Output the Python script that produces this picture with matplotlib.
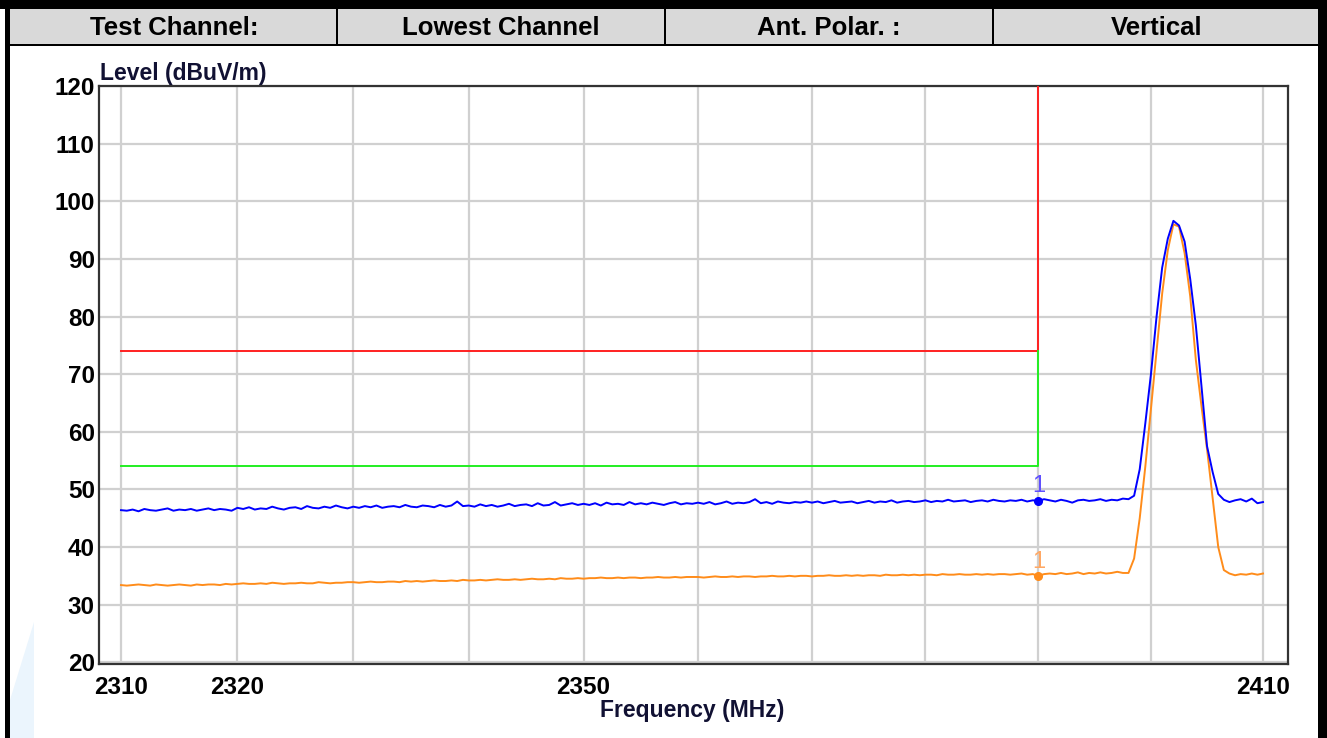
import numpy as np
import matplotlib
matplotlib.use("Agg")
import matplotlib.pyplot as plt
from matplotlib.patches import Rectangle, Polygon
from matplotlib.ticker import NullLocator, FixedLocator, FixedFormatter

# ---------------- data ----------------
header_cells = ["Test Channel:", "Lowest Channel", "Ant. Polar. :", "Vertical"]

freq_start, freq_stop, n_points = 2310.0, 2410.0, 201
freq = np.linspace(freq_start, freq_stop, n_points)  # sweep grid (0.5 MHz step)

peak_trace = [
    46.4, 46.3, 46.5, 46.2, 46.6, 46.4, 46.3, 46.5, 46.7, 46.3,
    46.5, 46.4, 46.6, 46.3, 46.5, 46.7, 46.4, 46.6, 46.5, 46.3,
    46.8, 46.6, 46.9, 46.5, 46.7, 46.6, 47.0, 46.7, 46.5, 46.8,
    46.9, 46.6, 47.1, 46.8, 46.7, 47.0, 46.8, 47.2, 46.9, 46.7,
    47.0, 46.8, 47.1, 46.9, 47.2, 46.8, 47.0, 47.1, 46.9, 47.3,
    47.0, 46.9, 47.2, 47.1, 46.9, 47.3, 47.0, 47.2, 47.9, 47.1,
    47.2, 47.0, 47.4, 47.1, 47.3, 47.0, 47.2, 47.5, 47.1, 47.3,
    47.4, 47.1, 47.6, 47.2, 47.3, 47.8, 47.2, 47.4, 47.6, 47.3,
    47.5, 47.3, 47.6, 47.2, 47.7, 47.4, 47.5, 47.3, 47.8, 47.4,
    47.6, 47.4, 47.7, 47.5, 47.3, 47.6, 47.8, 47.4, 47.6, 47.5,
    47.7, 47.5, 47.8, 47.4, 47.6, 47.9, 47.5, 47.7, 47.6, 47.8,
    48.3, 47.6, 47.8, 47.5, 47.9, 47.7, 47.6, 47.8, 47.7, 47.9,
    47.7, 47.9, 47.6, 47.8, 48.0, 47.7, 47.8, 47.9, 47.6, 47.8,
    48.0, 47.7, 47.9, 47.8, 48.1, 47.7, 47.9, 48.0, 47.8, 47.9,
    48.1, 47.8, 48.0, 47.9, 48.2, 47.9, 48.0, 48.1, 47.8, 48.0,
    48.1, 47.9, 48.2, 48.0, 47.9, 48.1, 48.0, 48.2, 47.9, 48.1,
    48.0, 48.3, 48.1, 47.9, 48.2, 48.0, 47.7, 48.1, 48.2, 48.0,
    48.1, 48.3, 48.0, 48.2, 48.1, 48.4,
    48.3, 48.9, 53.5, 61.5, 70.0, 80.0, 88.5, 93.5, 96.6, 95.8,
    93.0, 86.5, 78.5, 68.0, 57.5, 53.0, 49.2, 48.2,
    47.8, 48.1, 48.3, 47.9, 48.4, 47.6, 47.8,
]

avg_trace = [
    33.4, 33.3, 33.4, 33.5, 33.4, 33.3, 33.5, 33.4, 33.3, 33.4,
    33.5, 33.4, 33.3, 33.5, 33.4, 33.5, 33.5, 33.4, 33.6, 33.5,
    33.6, 33.7, 33.6, 33.6, 33.7, 33.6, 33.8, 33.7, 33.6, 33.7,
    33.7, 33.8, 33.7, 33.7, 33.9, 33.8, 33.7, 33.8, 33.8, 33.9,
    33.9, 33.8, 33.9, 34.0, 33.9, 33.9, 34.0, 34.0, 33.9, 34.1,
    34.0, 34.1, 34.0, 34.1, 34.2, 34.1, 34.1, 34.2, 34.1, 34.3,
    34.2, 34.2, 34.3, 34.2, 34.3, 34.4, 34.3, 34.3, 34.4, 34.3,
    34.4, 34.5, 34.4, 34.4, 34.5, 34.4, 34.6, 34.5, 34.5, 34.6,
    34.5, 34.6, 34.6, 34.7, 34.6, 34.6, 34.7, 34.6, 34.7, 34.7,
    34.6, 34.7, 34.7, 34.8, 34.7, 34.7, 34.8, 34.7, 34.8, 34.8,
    34.8, 34.7, 34.8, 34.9, 34.8, 34.8, 34.9, 34.8, 34.9, 34.9,
    34.8, 34.9, 34.9, 35.0, 34.9, 34.9, 35.0, 34.9, 35.0, 35.0,
    34.9, 35.0, 35.0, 35.1, 35.0, 35.0, 35.1, 35.0, 35.1, 35.0,
    35.1, 35.1, 35.0, 35.2, 35.1, 35.1, 35.2, 35.1, 35.2, 35.1,
    35.2, 35.2, 35.1, 35.3, 35.2, 35.2, 35.3, 35.2, 35.2, 35.3,
    35.2, 35.3, 35.2, 35.3, 35.3, 35.2, 35.3, 35.4, 35.2, 35.3,
    35.0, 35.3, 35.4, 35.3, 35.5, 35.3, 35.4, 35.6, 35.3, 35.5,
    35.4, 35.6, 35.4, 35.5, 35.7, 35.5,
    35.5, 38.0, 45.0, 54.0, 64.0, 74.0, 84.0, 91.5, 96.0, 95.6,
    91.0, 83.5, 72.5, 64.5, 57.0, 48.5, 40.0, 36.0,
    35.4, 35.1, 35.3, 35.2, 35.4, 35.2, 35.4,
]

band_edge = 2390.0
peak_limit = 74.0
avg_limit = 54.0
marker_freq = 2390.0
marker_peak = 48.0
marker_avg = 34.9

x_grid = list(range(2310, 2411, 10))
x_labeled = {2310: "2310", 2320: "2320", 2350: "2350", 2410: "2410"}
y_ticks = list(range(20, 121, 10))

# ---------------- figure ----------------
W, H = 1327, 738
fig = plt.figure(figsize=(W / 100, H / 100), dpi=100)
FONT = "Liberation Sans"


def fx(px):
    return px / W


def fy(py):
    return 1 - py / H


# header band
fig.patches.append(Rectangle((fx(10), fy(45)), fx(1318) - fx(10), fy(9) - fy(45),
                             transform=fig.transFigure, facecolor="#d9d9d9",
                             edgecolor="none", zorder=0))
# outer black border (top, left, right) and header bottom line
fig.patches.append(Rectangle((0, fy(9)), 1, 1 - fy(9), transform=fig.transFigure,
                             facecolor="black", edgecolor="none"))
fig.patches.append(Rectangle((fx(5), 0), fx(10) - fx(5), 1, transform=fig.transFigure,
                             facecolor="black", edgecolor="none"))
fig.patches.append(Rectangle((fx(1318), 0), 1 - fx(1318), 1, transform=fig.transFigure,
                             facecolor="black", edgecolor="none"))
fig.patches.append(Rectangle((fx(10), fy(46)), fx(1318) - fx(10), fy(44) - fy(46),
                             transform=fig.transFigure, facecolor="black", edgecolor="none"))
for sx in [337, 665, 993]:
    fig.patches.append(Rectangle((fx(sx - 1), fy(45)), fx(2), fy(9) - fy(45),
                                 transform=fig.transFigure, facecolor="black",
                                 edgecolor="none"))
# faint watermark shape bottom-left
fig.patches.append(Polygon([(fx(10), fy(738)), (fx(10), fy(700)), (fx(34), fy(622)),
                            (fx(34), fy(738))], closed=True, transform=fig.transFigure,
                           facecolor="#ebf5fd", edgecolor="none"))

cell_centers = [174, 501, 829, 1157]
for cx, txt in zip(cell_centers, header_cells):
    fig.text(fx(cx), fy(28), txt, ha="center", va="center", fontsize=18.5,
             fontweight="bold", family=FONT, color="black")

ax = fig.add_axes([fx(99), fy(664), fx(1288) - fx(99), fy(86) - fy(664)])
ax.set_xscale("log")
px_per_ln = (1263 - 121) / np.log(freq_stop / freq_start)
ax.set_xlim(freq_start * np.exp(-22 / px_per_ln), freq_stop * np.exp(25 / px_per_ln))
ax.set_ylim(19.7, 120)

ax.xaxis.set_major_locator(FixedLocator(x_grid))
ax.xaxis.set_major_formatter(FixedFormatter([x_labeled.get(v, "") for v in x_grid]))
ax.xaxis.set_minor_locator(NullLocator())
ax.set_yticks(y_ticks)
ax.set_yticklabels([str(v) for v in y_ticks])
ax.tick_params(length=0, labelsize=17.5, colors="black")
ax.tick_params(axis="x", pad=9)
ax.tick_params(axis="y", pad=3)
for lab in ax.get_xticklabels() + ax.get_yticklabels():
    lab.set_fontweight("bold")
    lab.set_family(FONT)
ax.grid(True, color="#d0d0d0", linewidth=1.6)
ax.set_axisbelow(True)
for sp in ax.spines.values():
    sp.set_color("#333333")
    sp.set_linewidth(1.6)

# limit lines
ax.plot([freq_start, band_edge, band_edge], [peak_limit, peak_limit, 120],
        color="#ff2020", lw=1.4, zorder=3)
ax.plot([freq_start, band_edge, band_edge], [avg_limit, avg_limit, peak_limit],
        color="#22ee22", lw=1.4, zorder=3)

# traces
ax.plot(freq, avg_trace, color="#ff8c1a", lw=1.4, zorder=4)
ax.plot(freq, peak_trace, color="#0000ff", lw=1.4, zorder=5)

# markers
ax.plot([marker_freq], [marker_peak], "o", color="#0000ff", ms=5.5, zorder=6)
ax.plot([marker_freq], [marker_avg], "o", color="#ff8c1a", ms=5.5, zorder=6)
ax.annotate("1", (marker_freq, marker_peak), xytext=(0, 2.5), textcoords="offset points",
            ha="center", va="bottom", fontsize=17, color="#6050ff", family=FONT)
ax.annotate("1", (marker_freq, marker_avg), xytext=(0, 2.5), textcoords="offset points",
            ha="center", va="bottom", fontsize=17, color="#ffa864", family=FONT)

fig.text(fx(100), fy(80), "Level (dBuV/m)", ha="left", va="baseline", fontsize=16.5,
         fontweight="bold", family=FONT, color="#111133")
fig.text(fx(692), fy(717), "Frequency (MHz)", ha="center", va="baseline", fontsize=16.5,
         fontweight="bold", family=FONT, color="#111133")

fig.savefig("out.png", dpi=100)
